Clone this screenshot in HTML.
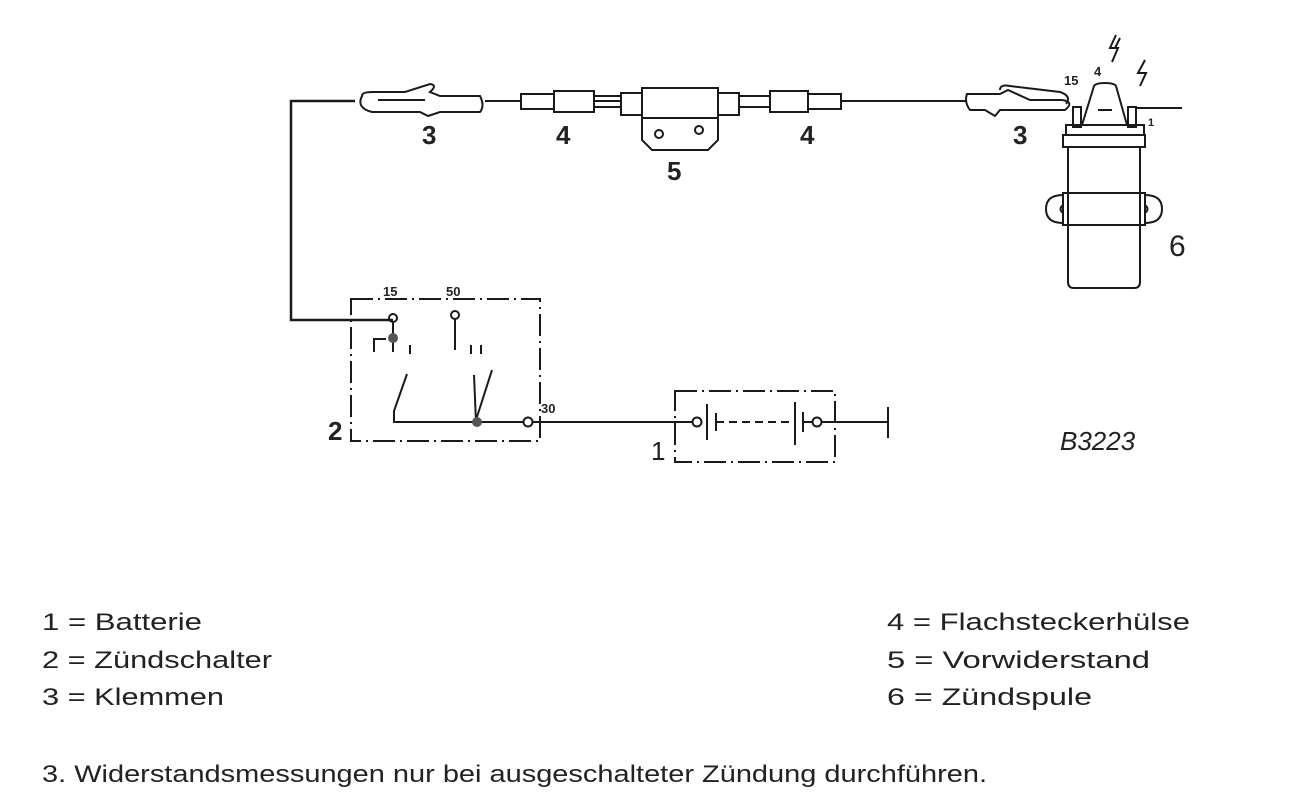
<!DOCTYPE html>
<html><head><meta charset="utf-8"><style>
html,body{margin:0;padding:0;background:#fff;}
svg{display:block;}
text{font-family:"Liberation Sans",sans-serif;fill:#222;}
</style></head><body>
<svg width="1312" height="811" viewBox="0 0 1312 811" xmlns="http://www.w3.org/2000/svg">
<g stroke="#1a1a1a" fill="none" stroke-width="2">
<polyline points="355,101 291,101 291,320 393,320" stroke-width="2.5"/>
<path d="M362,96 Q356,108 372,112 L420,112 L428,116 L440,112 L480,112 Q485,106 480,96 L440,96 L430,92 Q438,85 430,84 L405,92 L372,92 Q362,92 362,96 Z"/>
<path d="M378,100 L425,100"/>
<line x1="485" y1="101" x2="521" y2="101"/>
<rect x="521" y="94" width="33" height="15"/>
<rect x="554" y="91" width="40" height="21"/>
<line x1="594" y1="101" x2="621" y2="101"/>
<line x1="594" y1="96" x2="621" y2="96"/><line x1="594" y1="107" x2="621" y2="107"/>
<rect x="621" y="93" width="21" height="22"/>
<rect x="642" y="88" width="76" height="30"/>
<rect x="718" y="93" width="21" height="22"/>
<path d="M642,118 L642,140 L652,150 L708,150 L718,140 L718,118"/>
<circle cx="659" cy="134" r="4"/><circle cx="699" cy="130" r="4"/>
<line x1="739" y1="96" x2="770" y2="96"/><line x1="739" y1="107" x2="770" y2="107"/>
<rect x="770" y="91" width="38" height="21"/>
<rect x="808" y="94" width="33" height="15"/>
<line x1="841" y1="101" x2="967" y2="101"/>
<path d="M967,94 L1000,94 L1008,90 L1030,100 L1062,100 Q1075,102 1065,110 L1000,110 L995,116 L985,110 L970,110 Q964,102 967,94 Z"/>
<path d="M1000,90 Q1000,84 1010,86 L1060,92 Q1072,96 1066,104"/>
<rect x="1073" y="107" width="8" height="20"/>
<rect x="1128" y="107" width="8" height="20"/>
<line x1="1136" y1="108" x2="1182" y2="108"/>
<path d="M1082,125 L1094,86 Q1096,83 1105,83 Q1114,83 1116,86 L1127,125"/>
<line x1="1098" y1="110" x2="1112" y2="110"/>
<rect x="1066" y="125" width="78" height="10"/>
<rect x="1063" y="135" width="82" height="12"/>
<path d="M1068,147 L1068,282 Q1068,288 1074,288 L1134,288 Q1140,288 1140,282 L1140,147"/>
<rect x="1063" y="193" width="82" height="32"/>
<path d="M1063,195 Q1046,195 1046,209 Q1046,223 1063,223"/>
<path d="M1145,195 Q1162,195 1162,209 Q1162,223 1145,223"/>
<path d="M1063,205 Q1058,209 1063,213"/><path d="M1145,205 Q1150,209 1145,213"/>
<path d="M1116,35 L1110,48 L1118,48 L1112,62 M1120,38 L1115,48" stroke-width="2"/>
<path d="M1145,60 L1138,73 L1146,73 L1140,86" stroke-width="2"/>
<rect x="351" y="299" width="189" height="142" stroke-dasharray="22,5,2,5"/>
<circle cx="393" cy="318" r="4"/>
<circle cx="455" cy="315" r="4"/>
<line x1="455" y1="319" x2="455" y2="350"/>
<line x1="393" y1="322" x2="393" y2="336"/>
<path d="M374,352 L374,339 L386,339 M393,339 L393,352"/>
<line x1="410" y1="345" x2="410" y2="354"/>
<line x1="471" y1="345" x2="471" y2="354"/><line x1="481" y1="345" x2="481" y2="354"/>
<path d="M407,374 L394,411 L394,422 L524,422"/>
<line x1="474" y1="375" x2="476" y2="422"/><line x1="476" y1="420" x2="492" y2="370"/>
<circle cx="528" cy="422" r="4.5"/>
<line x1="532" y1="422" x2="693" y2="422"/>
<rect x="675" y="391" width="160" height="71" stroke-dasharray="22,5,2,5"/>
<circle cx="697" cy="422" r="4.5"/>
<line x1="707" y1="404" x2="707" y2="440"/>
<line x1="716" y1="413" x2="716" y2="431"/>
<line x1="716" y1="422" x2="790" y2="422" stroke-dasharray="8,5"/>
<line x1="795" y1="402" x2="795" y2="445"/>
<line x1="803" y1="412" x2="803" y2="432"/>
<line x1="803" y1="422" x2="812" y2="422"/>
<circle cx="817" cy="422" r="4.5"/>
<line x1="822" y1="422" x2="888" y2="422"/>
<line x1="888" y1="407" x2="888" y2="438"/>
</g>
<circle cx="393" cy="338" r="5" fill="#555"/>
<circle cx="477" cy="422" r="5" fill="#555"/>
<g font-weight="bold" font-size="26">
<text x="422" y="144">3</text><text x="556" y="144">4</text><text x="800" y="144">4</text>
<text x="667" y="180">5</text><text x="1013" y="144">3</text>
<text x="328" y="440">2</text>
</g>
<text x="651" y="460" font-size="26">1</text>
<text x="1169" y="256" font-size="30">6</text>
<g font-weight="bold" font-size="13">
<text x="383" y="296">15</text><text x="446" y="296">50</text><text x="541" y="413">30</text>
<text x="1064" y="85">15</text><text x="1094" y="76">4</text><text x="1148" y="126" font-size="11">1</text>
</g>
<text x="1060" y="450" font-size="26" font-style="italic">B3223</text>
<g font-size="24">
<text x="42" y="630" textLength="160" lengthAdjust="spacingAndGlyphs">1 = Batterie</text>
<text x="42" y="668" textLength="230" lengthAdjust="spacingAndGlyphs">2 = Zündschalter</text>
<text x="42" y="705" textLength="182" lengthAdjust="spacingAndGlyphs">3 = Klemmen</text>
<text x="887" y="630" textLength="303" lengthAdjust="spacingAndGlyphs">4  = Flachsteckerhülse</text>
<text x="887" y="668" textLength="263" lengthAdjust="spacingAndGlyphs">5  = Vorwiderstand</text>
<text x="887" y="705" textLength="205" lengthAdjust="spacingAndGlyphs">6  = Zündspule</text>
<text x="42" y="782" textLength="945" lengthAdjust="spacingAndGlyphs">3.   Widerstandsmessungen nur bei ausgeschalteter Zündung durchführen.</text>
</g>
</svg>
</body></html>
